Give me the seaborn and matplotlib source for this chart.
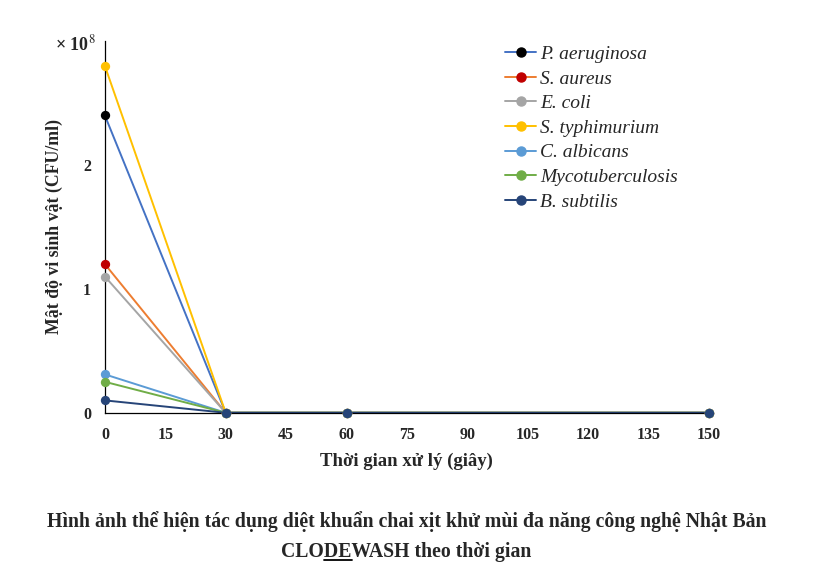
import numpy as np
import pandas as pd
import matplotlib
matplotlib.use("Agg")
import matplotlib.pyplot as plt
import seaborn as sns
from matplotlib.lines import Line2D

# -----------------------------
# Data (x 10^8 CFU/ml)
# -----------------------------
times = [0, 30, 60, 150]
species = ["P. aeruginosa", "S. aureus", "E. coli", "S. typhimurium",
           "C. albicans", "Mycotuberculosis", "B. subtilis"]
p_aeruginosa = [2.40, 0, 0, 0]
s_aureus = [1.20, 0, 0, 0]
e_coli = [1.10, 0, 0, 0]
s_typhimurium = [2.80, 0, 0, 0]
c_albicans = [0.31, 0, 0, 0]
mycotuberculosis = [0.25, 0, 0, 0]
b_subtilis = [0.10, 0, 0, 0]
series = [p_aeruginosa, s_aureus, e_coli, s_typhimurium,
          c_albicans, mycotuberculosis, b_subtilis]

line_colors = ["#4472C4", "#ED7D31", "#A5A5A5", "#FFC000",
               "#5B9BD5", "#70AD47", "#264478"]
marker_colors = ["#000000", "#C00000", "#A5A5A5", "#FFC000",
                 "#5B9BD5", "#70AD47", "#264478"]

rows = []
for name, vals in zip(species, series):
    for t, v in zip(times, vals):
        rows.append({"time": t, "value": v, "species": name})
df = pd.DataFrame(rows)

# -----------------------------
# Plot
# -----------------------------
sns.set_style("white")
plt.rcParams["font.family"] = ["Liberation Serif", "DejaVu Serif"]
plt.rcParams["mathtext.fontset"] = "stix"

fig = plt.figure(figsize=(8.13, 5.88), dpi=100)
ax = fig.add_axes([0.129, 0.298, 0.743, 0.632])

sns.lineplot(data=df, x="time", y="value", hue="species",
             palette=dict(zip(species, line_colors)), hue_order=species,
             linewidth=1.4, legend=False, ax=ax, clip_on=False)
for name, mc in zip(species, marker_colors):
    sub = df[df["species"] == name]
    ax.scatter(sub["time"], sub["value"], s=45, color=mc, zorder=3,
               clip_on=False, linewidths=0)

ax.set_xlim(0, 150)
ax.set_ylim(0, 3)
ax.set_xticks(np.arange(0, 151, 15))
ax.set_yticks([0, 1, 2, 3])
ax.set_yticklabels(["0", "1", "2", ""])
for lab in ax.get_xticklabels() + ax.get_yticklabels():
    lab.set_fontweight("bold")
    lab.set_fontsize(11.5)
ax.tick_params(axis="both", length=4, width=0.8, color="black",
               direction="out", pad=6)
for side in ["top", "right"]:
    ax.spines[side].set_visible(False)
for side in ["left", "bottom"]:
    ax.spines[side].set_color("black")
    ax.spines[side].set_linewidth(0.9)

ax.set_xlabel("Thời gian xử lý (giây)", fontsize=13.5, fontweight="bold",
              labelpad=7)
ax.set_ylabel("Mật độ vi sinh vật (CFU/ml)", fontsize=12.8, fontweight="bold",
              labelpad=14)
ax.text(-0.016, 0.99, r"× 10$^{8}$", transform=ax.transAxes, ha="right",
        va="center", fontsize=13, fontweight="bold")

handles = [Line2D([0], [0], color=lc, lw=1.4, marker="o", markersize=6.5,
                  markerfacecolor=mc, markeredgecolor=mc)
           for lc, mc in zip(line_colors, marker_colors)]
ax.legend(handles, species, loc="upper left", bbox_to_anchor=(0.634, 1.036),
          frameon=False, prop={"style": "italic", "size": 14},
          handlelength=1.6, handletextpad=0.2, labelspacing=0.36)

# caption
cap_size = 14.2
fig.text(0.5, 1 - 522 / 588, "Hình ảnh thể hiện tác dụng diệt khuẩn chai xịt khử mùi đa năng công nghệ Nhật Bản",
         ha="center", va="center", fontsize=cap_size, fontweight="bold")
line2 = "CLODEWASH theo thời gian"
t2 = fig.text(0.5, 1 - 552 / 588, line2, ha="center", va="center",
              fontsize=cap_size, fontweight="bold")
fig.canvas.draw()
r = fig.canvas.get_renderer()
bb = t2.get_window_extent(r)
tmp1 = fig.text(0, 0, "CLO", fontsize=cap_size, fontweight="bold")
tmp2 = fig.text(0, 0, "CLODE", fontsize=cap_size, fontweight="bold")
w1 = tmp1.get_window_extent(r).width
w2 = tmp2.get_window_extent(r).width
tmp1.remove()
tmp2.remove()
W, H = fig.bbox.width, fig.bbox.height
uy = (bb.y0 + 2) / H
fig.add_artist(Line2D([(bb.x0 + w1) / W, (bb.x0 + w2) / W], [uy, uy],
                      color="black", lw=1.3, transform=fig.transFigure))

fig.savefig("out.png", dpi=100)
